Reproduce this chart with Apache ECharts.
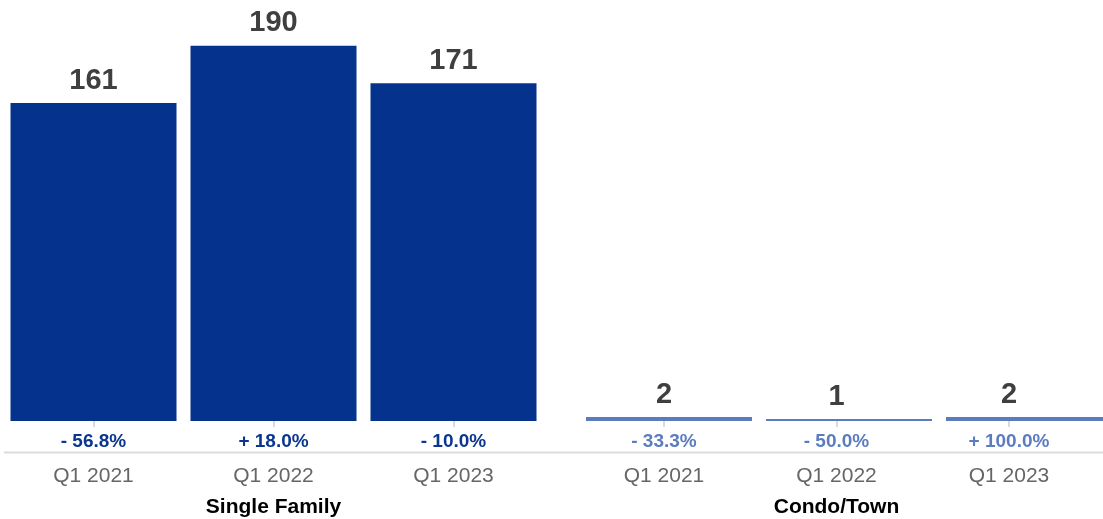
<!DOCTYPE html>
<html>
<head>
<meta charset="utf-8">
<script src="https://cdn.jsdelivr.net/npm/echarts@6/dist/echarts.min.js"></script>
<style>
  html, body { margin: 0; padding: 0; background: #fff; }
  #chart { width: 1103px; height: 519px; }
</style>
</head>
<body>
<div id="chart"></div>
<script>
// Quarterly counts per property type, with year-over-year change (%)
const categories = ['Q1 2021', 'Q1 2022', 'Q1 2023'];
const singleFamily = [161, 190, 171];
const singleFamilyChange = [-56.8, 18.0, -10.0];
const condoTown = [2, 1, 2];
const condoTownChange = [-33.3, -50.0, 100.0];
const groupNames = ['Single Family', 'Condo/Town'];

const FONT = '"Liberation Sans", Arial, Helvetica, sans-serif';
const W = 1103, H = 519;
const GRID_TOP = 26, GRID_BOTTOM = 98, AXIS_OFFSET = 31.5;
const BAR_W = 166;

function fmtChange(v) {
  const sign = v < 0 ? '- ' : '+ ';
  return sign + Math.abs(v).toFixed(1) + '%';
}

function yAxis(gridIndex) {
  return { type: 'value', gridIndex, min: 0, max: 200, show: false };
}

function xAxis(gridIndex, showText, name) {
  return {
    type: 'category',
    gridIndex,
    data: categories,
    offset: AXIS_OFFSET,
    axisLine: { show: false },
    axisTick: {
      show: showText, alignWithLabel: true, length: 6,
      lineStyle: { color: '#dadada', width: 2 }
    },
    axisLabel: {
      show: showText, margin: 13, fontSize: 21, color: '#666666', fontFamily: FONT
    },
    name: name || '',
    nameLocation: 'middle',
    nameGap: 44,
    nameTextStyle: { fontSize: 21, fontWeight: 'bold', color: '#000000', fontFamily: FONT }
  };
}

function valueBars(axis, data, color, withLabel) {
  return {
    type: 'bar', xAxisIndex: axis, yAxisIndex: axis, data,
    barWidth: BAR_W, barGap: '-100%',
    itemStyle: { color },
    silent: true,
    label: {
      show: withLabel, position: 'top', distance: 8,
      fontSize: 29, fontWeight: 'bold', color: '#3f3f3f', fontFamily: FONT
    }
  };
}

function changeLabels(axis, data, changes, color) {
  return {
    type: 'bar', xAxisIndex: axis, yAxisIndex: axis, data,
    barWidth: BAR_W, barGap: '-100%',
    itemStyle: { color: 'rgba(0,0,0,0)' },
    silent: true,
    label: {
      show: true, position: 'bottom', distance: 11,
      formatter: p => fmtChange(changes[p.dataIndex]),
      fontSize: 19, fontWeight: 'bold', color, fontFamily: FONT
    }
  };
}

function grid(left, width) {
  return { left, width, top: GRID_TOP, bottom: GRID_BOTTOM, outerBoundsMode: 'none', containLabel: false };
}

const chart = echarts.init(document.getElementById('chart'), null, { renderer: 'canvas' });
chart.setOption({
  animation: false,
  backgroundColor: '#ffffff',
  grid: [
    grid(3.5, 540),
    grid(579, 540),
    grid(577.75, 517.5)
  ],
  xAxis: [
    xAxis(0, true, groupNames[0]),
    xAxis(1, false),
    xAxis(2, true, groupNames[1])
  ],
  yAxis: [yAxis(0), yAxis(1), yAxis(2)],
  graphic: [{
    type: 'line', z: 0, silent: true,
    shape: { x1: 4, y1: H - GRID_BOTTOM + AXIS_OFFSET, x2: W, y2: H - GRID_BOTTOM + AXIS_OFFSET },
    style: { stroke: '#dcdcdc', lineWidth: 2 }
  }],
  series: [
    valueBars(0, singleFamily, '#05328c', true),
    changeLabels(0, singleFamily, singleFamilyChange, '#0b3690'),
    valueBars(1, condoTown, '#5b7bbd', false),
    valueBars(2, condoTown, 'rgba(0,0,0,0)', true),
    changeLabels(2, condoTown, condoTownChange, '#5b7cbf')
  ]
});
</script>
</body>
</html>
